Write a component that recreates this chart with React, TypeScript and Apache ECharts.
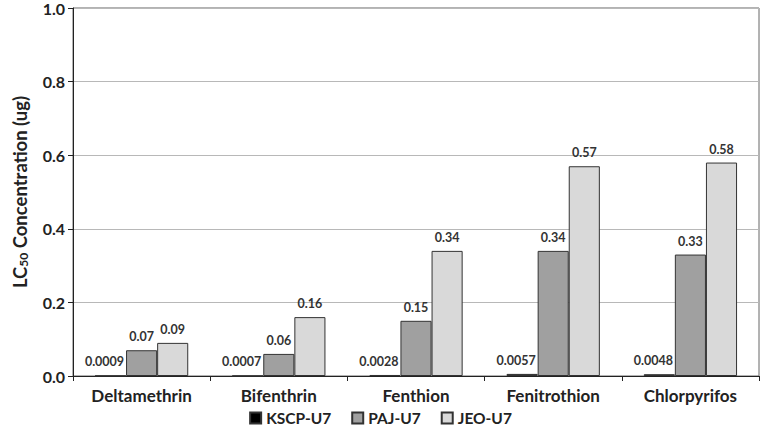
import React, { useEffect, useRef } from "react";
import * as echarts from "echarts";

const categories = ["Deltamethrin", "Bifenthrin", "Fenthion", "Fenitrothion", "Chlorpyrifos"];
const kscp = [0.0009, 0.0007, 0.0028, 0.0057, 0.0048];
const paj = [0.07, 0.06, 0.15, 0.34, 0.33];
const jeo = [0.09, 0.16, 0.34, 0.57, 0.58];
const seriesNames = ["KSCP-U7", "PAJ-U7", "JEO-U7"];
const colors = ["#000000", "#a0a0a0", "#d9d9d9"];

const FONT = "Lato";

export default function App() {
  const ref = useRef<HTMLDivElement>(null);
  useEffect(() => {
    if (!ref.current) return;
    const chart = echarts.init(ref.current, null, { renderer: "svg" });
    const data = [kscp, paj, jeo];
    chart.setOption({
      animation: false,
      textStyle: { fontFamily: FONT },
      grid: {
        left: 73,
        right: 2,
        top: 7,
        bottom: 55,
        show: true,
        borderColor: "#666",
        borderWidth: 1,
      },
      legend: {
        bottom: 0,
        left: "center",
        itemWidth: 11,
        itemHeight: 11,
        itemGap: 20,
        textStyle: { fontFamily: FONT, fontWeight: "bold", fontSize: 15.5, color: "#222" },
        data: seriesNames.map((n) => ({ name: n, icon: "rect" })),
      },
      xAxis: {
        type: "category",
        data: categories,
        axisLine: { lineStyle: { color: "#222", width: 1 } },
        axisTick: { show: true, length: 5, lineStyle: { color: "#222" } },
        axisLabel: { fontFamily: FONT, fontWeight: "bold", fontSize: 17, color: "#222", margin: 11 },
      },
      yAxis: {
        type: "value",
        min: 0,
        max: 1,
        interval: 0.2,
        name: "{a|LC}{b|50}{a| Concentration (ug)}",
        nameLocation: "middle",
        nameGap: 44,
        nameRotate: 90,
        nameTextStyle: {
          rich: {
            a: { fontFamily: FONT, fontWeight: "bold", fontSize: 18.5, color: "#222" },
            b: { fontFamily: FONT, fontWeight: "bold", fontSize: 12, color: "#222", verticalAlign: "bottom", padding: [7, 0, 0, 0] },
          },
        },
        axisLine: { show: true, lineStyle: { color: "#222", width: 1 } },
        axisTick: { show: true, length: 5, lineStyle: { color: "#222" } },
        axisLabel: {
          fontFamily: FONT,
          fontWeight: "bold",
          fontSize: 16,
          color: "#222",
          margin: 8,
          formatter: (v: number) => v.toFixed(1),
        },
        splitLine: { show: true, lineStyle: { color: "#b8b8b8", width: 1 } },
      },
      series: data.map((d, i) => ({
        name: seriesNames[i],
        type: "bar",
        data: d,
        barGap: "0%",
        barCategoryGap: "32%",
        itemStyle: { color: colors[i], borderColor: "#333", borderWidth: 1 },
        label: {
          show: true,
          position: "top",
          distance: 7,
          offset: i === 0 ? [-6, 0] : [0, 0],
          fontFamily: FONT,
          fontWeight: "bold",
          fontSize: 12.5,
          color: "#333",
          formatter: (p: any) => String(p.value),
        },
      })),
    });
    return () => chart.dispose();
  }, []);
  return <div ref={ref} style={{ width: 761, height: 431, position: "absolute", left: 0, top: 0, background: "#fff" }} />;
}
